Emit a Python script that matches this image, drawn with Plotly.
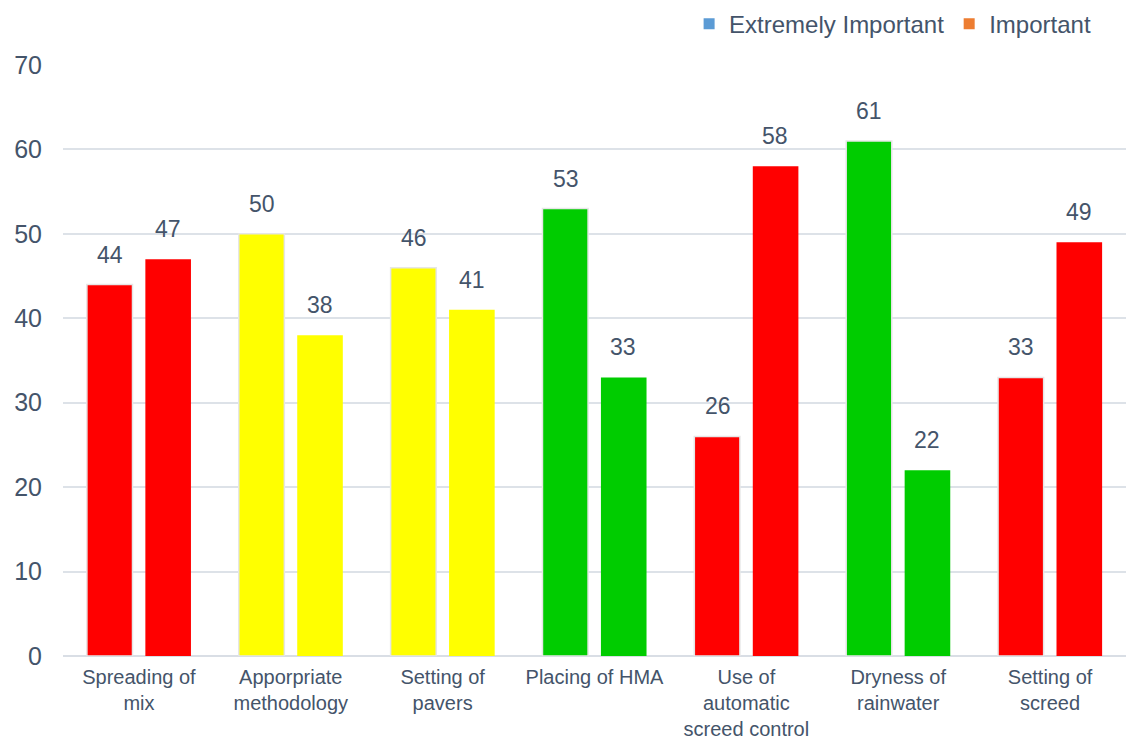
import plotly.graph_objects as go

categories = [
    "Spreading of<br>mix",
    "Apporpriate<br>methodology",
    "Setting of<br>pavers",
    "Placing of HMA",
    "Use of<br>automatic<br>screed control",
    "Dryness of<br>rainwater",
    "Setting of<br>screed",
]
extremely_important = [44, 50, 46, 53, 26, 61, 33]
important = [47, 38, 41, 33, 58, 22, 49]
bar_colors = ["#FF0000", "#FFFF00", "#FFFF00", "#00CC00", "#FF0000", "#00CC00", "#FF0000"]

TEXT = "#44546A"
FONT = "Liberation Sans, Arial, sans-serif"

fig = go.Figure()
series = [
    ("Extremely Important", extremely_important, dict(color="#E6E6E6", width=1.5)),
    ("Important", important, dict(color="rgba(0,0,0,0)", width=0)),
]
for name, vals, outline in series:
    fig.add_trace(go.Bar(
        x=categories, y=vals, name=name, showlegend=False,
        offsetgroup=name,
        marker=dict(color=bar_colors, line=outline),
    ))

# value labels above each bar, placed on the bar's own category/offset
for k, (name, vals, _) in enumerate(series):
    for i, v in enumerate(vals):
        fig.add_annotation(
            x=i + (-0.19 if k == 0 else 0.19), y=v, text=str(v),
            xref="x", yref="y", yanchor="bottom", yshift=15, showarrow=False,
            font=dict(size=23, color=TEXT, family=FONT),
        )

# legend keys use the default series colours
for name, col in [("Extremely Important", "#5B9BD5"), ("Important", "#ED7D31")]:
    fig.add_trace(go.Scatter(
        x=[None], y=[None], mode="markers", name=name,
        marker=dict(symbol="square", size=11, color=col), showlegend=True,
    ))

fig.update_layout(
    width=1126, height=742,
    margin=dict(l=63, r=0, t=65, b=86),
    paper_bgcolor="white", plot_bgcolor="white",
    barmode="group", bargap=0.23, bargroupgap=0.22,
    font=dict(family=FONT, color=TEXT, size=20),
    legend=dict(orientation="h", x=0.589, xanchor="left", y=1.069, yanchor="middle",
                font=dict(size=24, color=TEXT), itemwidth=30, traceorder="normal"),
    xaxis=dict(showline=True, linecolor="#D9DEE5", linewidth=1, ticks="",
               tickfont=dict(size=20, color=TEXT), range=[-0.5, 6.5],
               ticklabelstandoff=3, automargin=False),
    yaxis=dict(range=[0, 70], dtick=10, showgrid=True, gridcolor="#DDE2E8", gridwidth=2,
               zeroline=True, zerolinecolor="#D9DEE5", zerolinewidth=2,
               tickfont=dict(size=25, color=TEXT), ticklabelstandoff=20, automargin=False),
)

fig.write_html("out.html")
